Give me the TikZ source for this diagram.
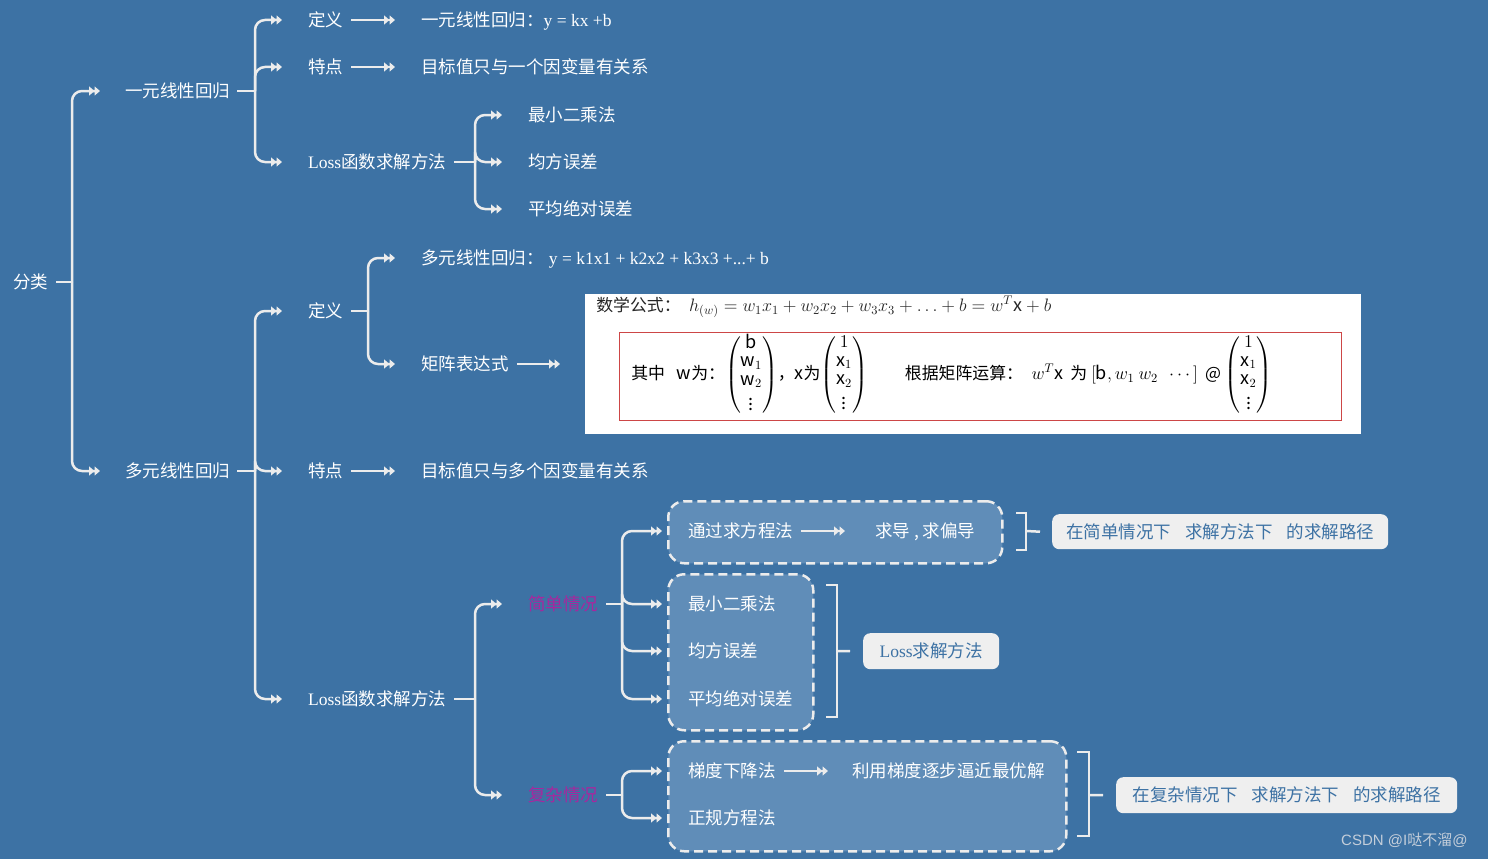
\documentclass[tikz,border=0pt]{standalone}
\usepackage{amsmath}
\usepackage{fontspec}
\setmainfont{Noto Sans CJK SC}
\newfontfamily\lat{Liberation Serif}
\newfontfamily\ari{Liberation Sans}
\usetikzlibrary{arrows.meta}
\newcommand{\formm}[1]{{\fontsize{14.4}{17.28}\selectfont$#1$}}
\definecolor{bg}{RGB}{61,114,164}
\definecolor{lc}{RGB}{236,236,236}
\definecolor{dfill}{RGB}{96,141,184}
\definecolor{nfill}{RGB}{239,239,239}
\definecolor{mag}{RGB}{168,39,158}
\definecolor{redbox}{RGB}{205,70,70}
\definecolor{wm}{RGB}{196,206,218}
\tikzset{
 fs/.style={font=\fontsize{17.5}{21}\selectfont},
 lbl/.style={fs, anchor=west, inner sep=0pt, text=white, text height=15.4pt, text depth=2.1pt},
 pink/.style={lbl, text=mag},
 conn/.style={draw=lc, line width=2.5pt},
 arr/.style={conn, -{Triangle[length=5.5pt,width=9pt]Triangle[length=5.5pt,width=9pt]}},
 tree/.style={arr, rounded corners=10pt},
 dbox/.style={draw=lc, fill=dfill, line width=2.5pt, dash pattern=on 9pt off 5pt, rounded corners=16pt, inner sep=0pt, anchor=north west},
 note/.style={fs, fill=nfill, rounded corners=7pt, text=bg, inner sep=0pt, anchor=north west, text height=15.4pt, text depth=2.1pt},
 formula/.style={anchor=west, inner sep=0pt, font=\fontsize{13.5}{16}\selectfont, scale=1.25, transform shape}
}
\begin{document}
\begin{tikzpicture}[x=1pt,y=-1pt]
\fill[bg] (0,0) rectangle (1488,859);
\useasboundingbox (0,0) rectangle (1488,859);

% ---------- dashed boxes, formula box, notes ----------
\node[dbox, minimum width=334, minimum height=62] (D1) at (667,500) {};
\node[dbox, minimum width=145, minimum height=156] (D2) at (667,573) {};
\node[dbox, minimum width=398, minimum height=110] (D3) at (667,740) {};

\node[fill=white, minimum width=776, minimum height=140, inner sep=0pt, anchor=north west] (F) at (585,294) {};
\node[draw=redbox, line width=1.2pt, minimum width=722, minimum height=88, inner sep=0pt, anchor=north west] (R) at (619,332) {};

\node[note, minimum width=336, minimum height=35] (N1) at (1052,514) {在简单情况下\hspace{0.8em}求解方法下\hspace{0.8em}的求解路径};
\node[note, minimum width=136, minimum height=36] (N2) at (863,633) {{\lat Loss}求解方法};
\node[note, minimum width=341, minimum height=36] (N3) at (1116,777) {在复杂情况下\hspace{0.8em}求解方法下\hspace{0.8em}的求解路径};

% ---------- text nodes ----------
\node[lbl] (root) at (13,282) {分类};
\node[lbl] (A) at (125,91) {一元线性回归};
\node[lbl] (A1) at (308,20) {定义};
\node[lbl] (A1t) at (421,20) {一元线性回归：{\lat y = kx +b}};
\node[lbl] (A2) at (308,67) {特点};
\node[lbl] (A2t) at (421,67) {目标值只与一个因变量有关系};
\node[lbl] (A3) at (308,162) {{\lat Loss}函数求解方法};
\node[lbl] (A3a) at (528,115) {最小二乘法};
\node[lbl] (A3b) at (528,162) {均方误差};
\node[lbl] (A3c) at (528,209) {平均绝对误差};

\node[lbl] (B) at (125,471) {多元线性回归};
\node[lbl] (B1) at (308,311) {定义};
\node[lbl] (B1a) at (421,258) {多元线性回归：\hspace{0.3em}{\lat y = k1x1 + k2x2 + k3x3 +...+ b}};
\node[lbl] (B1b) at (421,364) {矩阵表达式};
\node[lbl] (B2) at (308,471) {特点};
\node[lbl] (B2t) at (421,471) {目标值只与多个因变量有关系};
\node[lbl] (B3) at (308,699) {{\lat Loss}函数求解方法};
\node[pink] (S) at (528,604) {简单情况};
\node[pink] (C) at (528,795) {复杂情况};
\node[lbl] (S1) at (688,531) {通过求方程法};
\node[lbl] (S1t) at (875,531) {求导 , 求偏导};
\node[lbl] (S2) at (688,604) {最小二乘法};
\node[lbl] (S3) at (688,651) {均方误差};
\node[lbl] (S4) at (688,699) {平均绝对误差};
\node[lbl] (C1) at (688,771) {梯度下降法};
\node[lbl] (C1t) at (852,771) {利用梯度逐步逼近最优解};
\node[lbl] (C2) at (688,818) {正规方程法};

% formula texts
\node[formula, text=black!85] (f1) at (596,307)
 {数学公式：\hspace{0.5em}\formm{h_{(w)} = w_1x_1 + w_2x_2 + w_3x_3 + \ldots + b = w^T\mathrm{x} + b}};
\node[formula, text=black] (f2) at (631,375)
 {\renewcommand{\arraystretch}{0.85}其中\hspace{0.7em}\formm{\mathrm{w}}为：\formm{\begin{pmatrix}\,\mathrm{b}\,\\ \mathrm{w}_1\\ \mathrm{w}_2\\ \vdots\end{pmatrix}}，\formm{\mathrm{x}}为\formm{\begin{pmatrix}\,1\,\\ \mathrm{x}_1\\ \mathrm{x}_2\\ \vdots\end{pmatrix}}\hspace{2.2em}根据矩阵运算：\hspace{0.5em}\formm{w^T\mathrm{x}}\hspace{0.2em} 为 \formm{[\mathrm{b}, w_1\ w_2\ \ \cdots]}\hspace{0.2em} @ \formm{\begin{pmatrix}\,1\,\\ \mathrm{x}_1\\ \mathrm{x}_2\\ \vdots\end{pmatrix}}};

\node[anchor=west, inner sep=0pt, text=wm, font=\fontsize{15}{18}\selectfont] (wmk) at (1341,840) {{\ari CSDN @I}哒不溜{\ari @}};

% ---------- junctions ----------
\coordinate (jr) at (72,282);
\coordinate (jA) at (255,91);
\coordinate (jA3) at (475,162);
\coordinate (jB) at (255,471);
\coordinate (jB1) at (368,311);
\coordinate (jB3) at (475,699);
\coordinate (jS) at (622,604);
\coordinate (jC) at (622,795);

% ---------- tree connectors ----------
\draw[conn] ([xshift=8pt]root.east) -- (jr);
\draw[tree] (jr) |- ([xshift=-25pt]A.west);
\draw[tree] (jr) |- ([xshift=-25pt]B.west);

\draw[conn] ([xshift=7pt]A.east) -- (jA);
\foreach \c in {A1,A2,A3} \draw[tree] (jA) |- ([xshift=-26pt]\c.west);
\draw[conn] ([xshift=8pt]A3.east) -- (jA3);
\foreach \c in {A3a,A3b,A3c} \draw[tree] (jA3) |- ([xshift=-26pt]\c.west);

\draw[conn] ([xshift=7pt]B.east) -- (jB);
\foreach \c in {B1,B2,B3} \draw[tree] (jB) |- ([xshift=-26pt]\c.west);
\draw[conn] ([xshift=8pt]B1.east) -- (jB1);
\foreach \c in {B1a,B1b} \draw[tree] (jB1) |- ([xshift=-26pt]\c.west);
\draw[conn] ([xshift=8pt]B3.east) -- (jB3);
\foreach \c in {S,C} \draw[tree] (jB3) |- ([xshift=-26pt]\c.west);
\draw[conn] ([xshift=8pt]S.east) -- (jS);
\foreach \c in {S1,S2,S3,S4} \draw[tree] (jS) |- ([xshift=-26pt]\c.west);
\draw[conn] ([xshift=8pt]C.east) -- (jC);
\foreach \c in {C1,C2} \draw[tree] (jC) |- ([xshift=-26pt]\c.west);

% ---------- straight arrows ----------
\draw[arr, shorten <=8pt, shorten >=26pt] (A1.east) -- (A1t.west);
\draw[arr, shorten <=8pt, shorten >=26pt] (A2.east) -- (A2t.west);
\draw[arr, shorten <=8pt, shorten >=26pt] (B2.east) -- (B2t.west);
\draw[arr, shorten <=8pt, shorten >=25pt] (B1b.east) -- (B1b.east -| F.west);
\draw[arr, shorten <=8pt, shorten >=30pt] (S1.east) -- (S1t.west);
\draw[arr, shorten <=8pt, shorten >=24pt] (C1.east) -- (C1t.west);

% ---------- brackets ----------
\coordinate (b1t) at (1016,513); \coordinate (b1b) at (1016,550); \coordinate (b1m) at (1026,531);
\draw[conn] (b1t) -| (b1m) |- (b1b);
\draw[conn] (b1m) -- ([xshift=-12pt]N1.west);
\coordinate (b2t) at (826,585); \coordinate (b2b) at (826,717); \coordinate (b2m) at (837,651);
\draw[conn] (b2t) -| (b2m) |- (b2b);
\draw[conn] (b2m) -- ([xshift=-13pt]N2.west);
\coordinate (b3t) at (1077,752); \coordinate (b3b) at (1077,836); \coordinate (b3m) at (1089,795);
\draw[conn] (b3t) -| (b3m) |- (b3b);
\draw[conn] (b3m) -- ([xshift=-13pt]N3.west);
\end{tikzpicture}
\end{document}
